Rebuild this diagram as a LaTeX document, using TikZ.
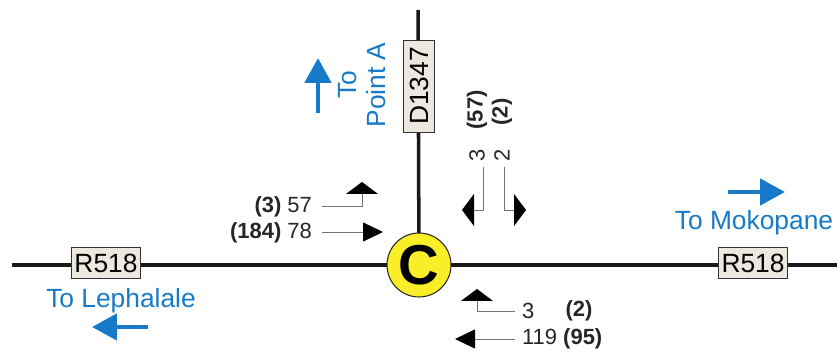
\documentclass[tikz,border=0pt]{standalone}
\usepackage{fontspec}
\setmainfont{Liberation Sans}
\usetikzlibrary{arrows.meta}
\definecolor{signblue}{RGB}{22,122,200}
\definecolor{junctionyellow}{RGB}{250,238,40}
\definecolor{shieldfill}{RGB}{236,231,223}
\tikzset{
  road/.style={line width=2pt,black!90},
  shield/.style={draw=black!80,fill=shieldfill,line width=0.5pt,inner xsep=1.5pt,
    minimum height=0.54cm,font=\fontsize{15}{17}\selectfont},
  junction/.style={circle,draw=black!85,fill=junctionyellow,line width=0.6pt,
    minimum size=1.28cm,inner sep=0pt,font=\fontsize{32}{34}\selectfont\bfseries},
  dirtext/.style={signblue,font=\fontsize{15}{16}\selectfont,inner sep=1pt},
  toarrow/.style={signblue,line width=2.8pt,-{Triangle[length=0.5cm,width=0.52cm]}},
  volume/.style={black!85,font=\fontsize{12.5}{14}\selectfont,inner sep=1pt},
  thruarrow/.style={black!55,line width=0.5pt,-{Triangle[length=0.4cm,width=0.38cm,color=black]}},
  turnarrow/.style={black!55,line width=0.5pt,-{Triangle[length=0.24cm,width=0.64cm,color=black]}},
}
\begin{document}
\begin{tikzpicture}[x=0.02cm,y=-0.02cm]
\useasboundingbox (0,0) rectangle (837,357);
% roads
\coordinate (west) at (12,265);
\coordinate (east) at (837,265);
\coordinate (north) at (418,10);
\coordinate (centre) at (419,265);
\draw[road] (west) -- (east);
\draw[road] (north) -- (centre);
\node[shield] (r518w) at (106,263) {R518};
\node[shield] (r518e) at (753,263) {R518};
\node[shield,rotate=90,minimum width=1.84cm] (d1347) at (419,86) {D1347};
\node[junction] (jc) at (centre) {C};
% destinations
\node[dirtext] (lephalale) at (121,301) {To Lephalale};
\coordinate (lephtail) at (148,327);
\coordinate (lephtip) at (92,327);
\draw[toarrow] (lephtail) -- (lephtip);
\node[dirtext] (mokopane) at (754,223) {To Mokopane};
\coordinate (moktail) at (728,192);
\coordinate (moktip) at (785,192);
\draw[toarrow] (moktail) -- (moktip);
\node[dirtext,rotate=90,align=center] (pointa) at (362,85) {To\\Point A};
\coordinate (pointtail) at (318,113);
\coordinate (pointtip) at (318,58);
\draw[toarrow] (pointtail) -- (pointtip);
% west approach
\node[volume,anchor=east] (vol57) at (314,207) {\textbf{(3)} 57};
\node[volume,anchor=east] (vol78) at (314,233) {\textbf{(184)} 78};
\coordinate (w57bend) at (362,206);
\coordinate (w57tip) at (362,182);
\coordinate (w78tip) at (383,232);
\draw[turnarrow] ([xshift=0.16cm]vol57.east |- w57bend) -- (w57bend) -- (w57tip);
\draw[thruarrow] ([xshift=0.16cm]vol78.east |- w78tip) -- (w78tip);
% north approach
\node[volume,rotate=90] (vol3n) at (477,155) {3};
\node[volume,rotate=90] (vol57n) at (477,110) {\textbf{(57)}};
\node[volume,rotate=90] (vol2n) at (502,155) {2};
\node[volume,rotate=90] (vol2nb) at (502,112) {\textbf{(2)}};
\coordinate (n3start) at (483,167);
\coordinate (n3bend) at (483,210);
\coordinate (n3tip) at (462,210);
\coordinate (n2start) at (504,167);
\coordinate (n2bend) at (504,210);
\coordinate (n2tip) at (526,210);
\draw[turnarrow] (n3start) -- (n3bend) -- (n3tip);
\draw[turnarrow] (n2start) -- (n2bend) -- (n2tip);
% east approach
\node[volume,anchor=west] (vol3e) at (520,311) {3};
\node[volume] (vol2e) at (579,311) {\textbf{(2)}};
\node[volume,anchor=west] (vol119) at (520,339) {119 \textbf{(95)}};
\coordinate (e3bend) at (477,311);
\coordinate (e3tip) at (477,289);
\coordinate (e119tip) at (455,339);
\draw[turnarrow] ([xshift=-0.1cm]vol3e.west) -- (e3bend) -- (e3tip);
\draw[thruarrow] ([xshift=-0.1cm]vol119.west) -- (e119tip);
\end{tikzpicture}
\end{document}
